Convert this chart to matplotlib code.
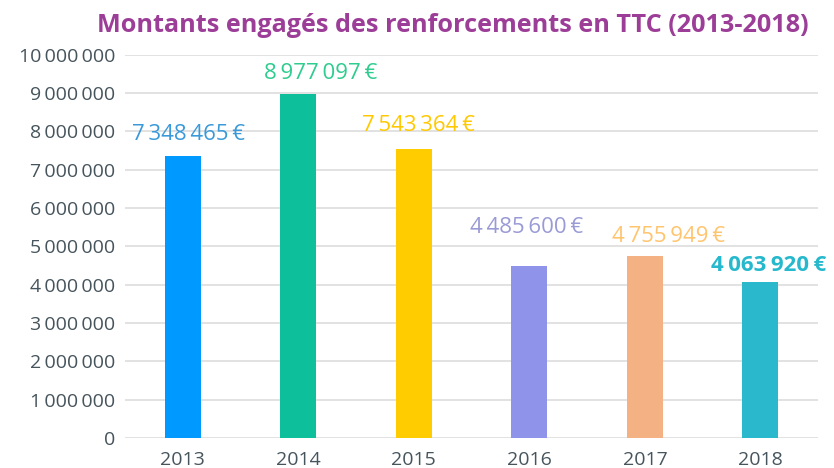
import matplotlib
matplotlib.use("Agg")
import matplotlib.pyplot as plt
from matplotlib.ticker import FuncFormatter, MultipleLocator

years = ["2013", "2014", "2015", "2016", "2017", "2018"]
values = [7348465, 8977097, 7543364, 4485600, 4755949, 4063920]
bar_colors = ["#0099ff", "#0dbf9b", "#ffcc00", "#8f94ea", "#f4b183", "#29b8cc"]
label_colors = ["#3a9ad9", "#2ecc8f", "#ffc800", "#9a9ad6", "#ffc46e", "#26b8cc"]
label_weights = ["normal", "normal", "normal", "normal", "normal", "bold"]
title = "Montants engagés des renforcements en TTC (2013-2018)"

# label offsets in points (dx, dy) relative to bar top center
label_offsets = [(4, 16), (16, 15), (3, 17), (-2, 28), (17, 14), (6, 12)]

def fmt(v):
    return f"{int(v):,}".replace(",", "\u2009")

fig = plt.figure(figsize=(8.34, 4.68), dpi=100)
ax = fig.add_axes([0.150, 0.064, 0.831, 0.819])

x = list(range(len(years)))
ax.bar(x, values, width=0.31, color=bar_colors, zorder=3)
ax.set_xlim(-0.5, len(years) - 0.5)
ax.set_ylim(0, 10000000)
ax.yaxis.set_major_locator(MultipleLocator(1000000))
ax.yaxis.set_major_formatter(FuncFormatter(lambda v, p: fmt(v)))
ax.set_xticks(x)
ax.set_xticklabels(years)
ax.grid(axis="y", color="#dddddd", linewidth=1.2, zorder=0)
for s in ax.spines.values():
    s.set_visible(False)
ax.tick_params(axis="both", length=0, labelsize=14, colors="#46545c")
ax.tick_params(axis="y", pad=7)
ax.tick_params(axis="x", pad=9)
for lab in ax.get_yticklabels() + ax.get_xticklabels():
    lab.set_family("Open Sans")

for i, v in enumerate(values):
    dx, dy = label_offsets[i]
    ax.annotate(fmt(v) + "\u2009€", (i, v), xytext=(dx, dy), textcoords="offset points",
                ha="center", va="center", fontsize=16, color=label_colors[i],
                fontweight=label_weights[i], family="Open Sans")

fig.text(0.543, 0.945, title, ha="center", va="center", fontsize=18.2, fontweight="bold",
         color="#9c3e97", family="Open Sans")

fig.savefig("out.png", dpi=100)
